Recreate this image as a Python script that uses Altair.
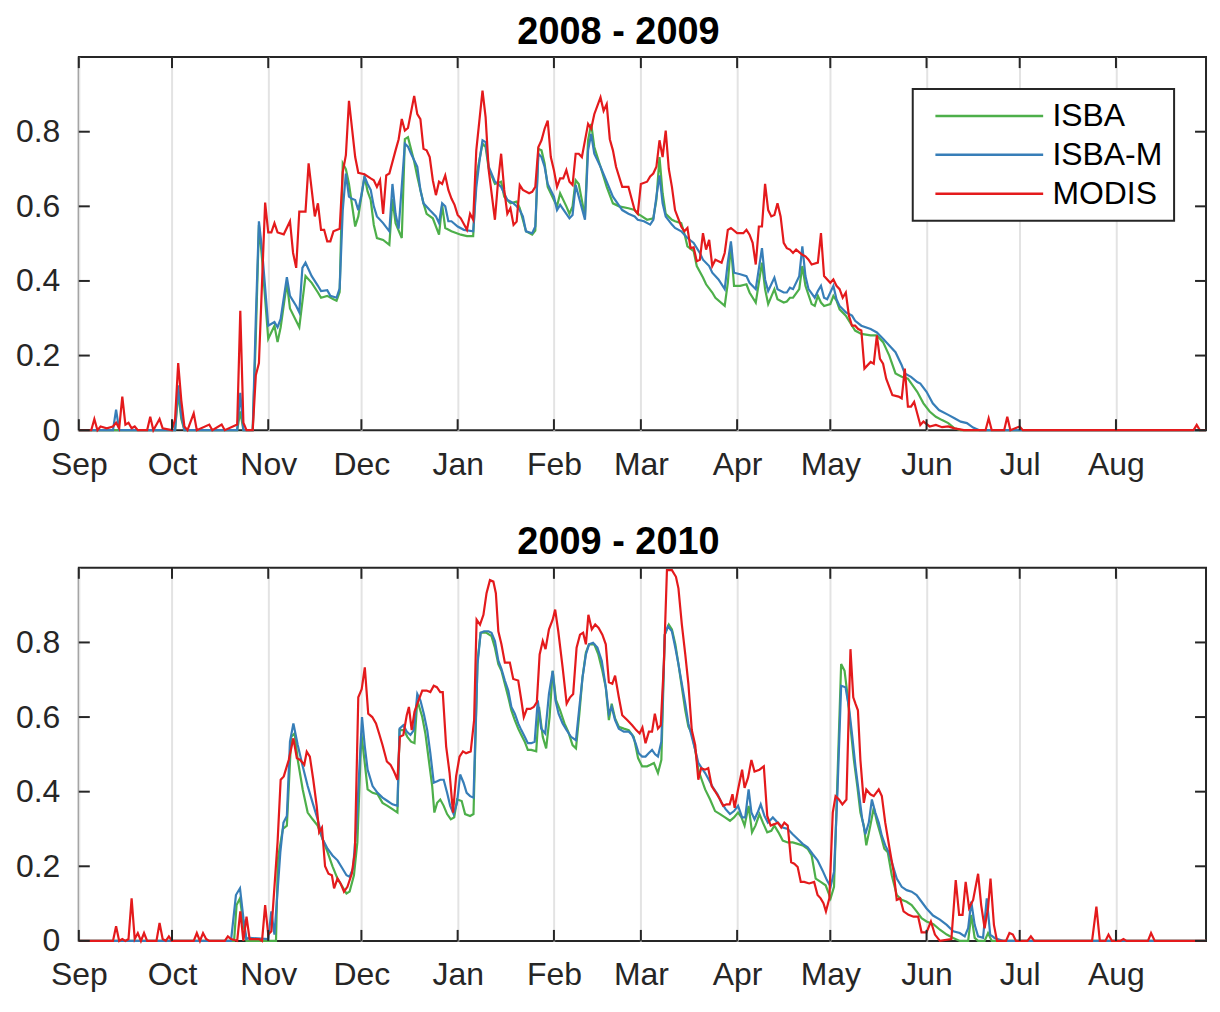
import altair as alt
import pandas as pd

# ---------------- axis / label values ----------------
month_days = [0, 30, 61, 91, 122, 153, 181, 212, 242, 273, 303, 334]
month_labels = ["Sep", "Oct", "Nov", "Dec", "Jan", "Feb", "Mar", "Apr", "May", "Jun", "Jul", "Aug"]
y_ticks = [0, 0.2, 0.4, 0.6, 0.8]
series_names = ["ISBA", "ISBA-M", "MODIS"]
series_colors = ["#4daf4a", "#377eb8", "#e41a1c"]
panel_titles = ["2008 - 2009", "2009 - 2010"]

# ---------------- 2008 - 2009 (day of season, value) ----------------
isba_0809 = [(0,0),(31,0),(32,0.1),(33,0.03),(34,0),(51,0),(52,0.05),(53,0),(56,0),(57,0.25),(58,0.55),(59,0.46),(61,0.245),(63,0.28),(64,0.236),(65,0.276),(67,0.395),(68,0.326),(71,0.276),(73,0.413),(75,0.395),(77,0.369),(78,0.355),(80,0.36),(82,0.351),(83,0.347),(84,0.37),(85,0.715),(86,0.7),(87,0.66),(89,0.546),(90,0.573),(92,0.68),(93,0.64),(94,0.617),(95,0.55),(96,0.515),(98,0.51),(100,0.497),(101,0.62),(102,0.555),(104,0.515),(105,0.78),(106,0.785),(108,0.72),(109,0.68),(111,0.608),(112,0.58),(114,0.568),(116,0.524),(117,0.604),(118,0.542),(120,0.533),(123,0.524),(125,0.52),(127,0.52),(128,0.68),(130,0.768),(131,0.759),(132,0.701),(134,0.66),(136,0.666),(137,0.626),(139,0.608),(141,0.613),(142,0.595),(143,0.564),(144,0.533),(146,0.524),(147,0.535),(148,0.754),(149,0.75),(150,0.715),(151,0.652),(153,0.617),(154,0.6),(155,0.635),(157,0.6),(158,0.58),(159,0.6),(160,0.67),(161,0.66),(163,0.573),(164,0.777),(165,0.821),(166,0.759),(168,0.706),(170,0.652),(172,0.608),(174,0.6),(177,0.595),(179,0.59),(180,0.58),(181,0.575),(183,0.564),(185,0.568),(186,0.617),(187,0.732),(188,0.635),(189,0.58),(191,0.564),(192,0.56),(194,0.555),(195,0.528),(196,0.493),(198,0.48),(199,0.44),(201,0.409),(202,0.391),(204,0.369),(205,0.355),(208,0.333),(209,0.395),(210,0.497),(211,0.387),(213,0.387),(215,0.391),(216,0.369),(218,0.342),(220,0.449),(221,0.378),(222,0.338),(224,0.378),(225,0.351),(227,0.342),(228,0.345),(229,0.355),(230,0.355),(232,0.378),(233,0.44),(234,0.387),(236,0.338),(237,0.333),(238,0.36),(239,0.342),(240,0.333),(242,0.338),(243,0.36),(244,0.347),(245,0.324),(247,0.307),(249,0.28),(250,0.267),(252,0.258),(255,0.254),(257,0.254),(259,0.236),(261,0.2),(263,0.152),(265,0.143),(267,0.138),(270,0.103),(272,0.072),(274,0.05),(276,0.036),(278,0.027),(280,0.019),(282,0.005),(284,0),(363,0)]

isbam_0809 = [(0,0),(11,0),(12,0.055),(13,0),(31,0),(32,0.12),(33,0.04),(34,0),(51,0),(52,0.1),(53,0),(56,0),(57,0.3),(58,0.56),(59,0.484),(61,0.28),(63,0.29),(64,0.276),(65,0.298),(67,0.41),(68,0.36),(70,0.333),(71,0.316),(72,0.435),(73,0.449),(75,0.413),(77,0.387),(78,0.373),(80,0.375),(81,0.36),(83,0.355),(84,0.38),(85,0.59),(86,0.688),(87,0.626),(88,0.62),(89,0.617),(90,0.59),(91,0.63),(92,0.68),(93,0.66),(94,0.644),(95,0.6),(96,0.573),(98,0.555),(100,0.533),(101,0.66),(102,0.58),(103,0.54),(105,0.768),(106,0.76),(107,0.741),(109,0.706),(110,0.644),(111,0.608),(113,0.59),(115,0.573),(116,0.555),(117,0.608),(118,0.6),(119,0.56),(120,0.56),(122,0.546),(124,0.537),(127,0.533),(128,0.65),(129,0.72),(130,0.777),(131,0.772),(132,0.706),(134,0.666),(135,0.66),(136,0.652),(138,0.617),(139,0.613),(140,0.608),(141,0.6),(142,0.59),(143,0.573),(144,0.533),(146,0.528),(147,0.546),(148,0.741),(149,0.732),(150,0.706),(151,0.66),(153,0.626),(154,0.59),(155,0.604),(157,0.58),(158,0.568),(159,0.577),(160,0.657),(161,0.626),(163,0.564),(164,0.75),(165,0.794),(166,0.741),(168,0.706),(170,0.666),(172,0.626),(175,0.59),(177,0.58),(179,0.573),(180,0.564),(182,0.56),(184,0.551),(185,0.564),(186,0.626),(187,0.683),(188,0.608),(189,0.573),(191,0.551),(192,0.542),(194,0.533),(196,0.515),(198,0.502),(200,0.475),(201,0.457),(203,0.44),(204,0.422),(206,0.404),(208,0.378),(209,0.45),(210,0.506),(211,0.422),(213,0.418),(215,0.413),(216,0.395),(218,0.378),(220,0.488),(221,0.404),(222,0.373),(224,0.409),(225,0.378),(227,0.369),(228,0.369),(229,0.382),(230,0.378),(232,0.413),(233,0.493),(234,0.413),(235,0.378),(237,0.355),(238,0.373),(239,0.387),(240,0.355),(241,0.351),(243,0.387),(244,0.351),(245,0.333),(247,0.316),(249,0.307),(250,0.293),(252,0.28),(255,0.271),(257,0.262),(259,0.245),(261,0.227),(263,0.209),(265,0.174),(266,0.152),(268,0.143),(270,0.129),(271,0.125),(273,0.103),(275,0.072),(277,0.054),(280,0.041),(282,0.032),(284,0.023),(286,0.019),(288,0.007),(290,0),(363,0)]

modis_0809 = [(0,0),(4,0),(5,0.03),(6,0),(7,0.01),(9,0.005),(11,0.01),(12,0.02),(13,0.005),(14,0.09),(15,0.015),(16,0.02),(17,0.005),(18,0.01),(19,0),(22,0),(23,0.036),(24,0),(26,0.03),(27,0.005),(30,0),(31,0.03),(32,0.18),(33,0.08),(34,0.01),(35,0),(37,0.045),(38,0),(42,0.015),(43,0),(46,0.015),(47,0),(51,0.015),(52,0.32),(53,0.02),(54,0),(56,0),(57,0.147),(58,0.18),(60,0.61),(61,0.53),(62,0.53),(63,0.555),(64,0.53),(66,0.525),(68,0.56),(69,0.475),(70,0.435),(71,0.586),(73,0.586),(74,0.715),(76,0.573),(77,0.608),(78,0.537),(79,0.537),(80,0.506),(81,0.506),(82,0.533),(84,0.54),(85,0.692),(86,0.737),(87,0.883),(89,0.732),(90,0.69),(92,0.686),(94,0.675),(95,0.67),(96,0.652),(97,0.67),(98,0.58),(99,0.683),(100,0.688),(102,0.75),(103,0.78),(104,0.834),(105,0.803),(106,0.81),(108,0.896),(109,0.847),(110,0.834),(111,0.754),(112,0.75),(113,0.732),(114,0.67),(115,0.63),(116,0.666),(117,0.66),(118,0.683),(119,0.644),(120,0.621),(121,0.604),(122,0.577),(123,0.568),(125,0.537),(126,0.58),(127,0.564),(128,0.75),(130,0.91),(131,0.839),(132,0.697),(134,0.564),(135,0.666),(136,0.741),(137,0.644),(138,0.58),(139,0.595),(140,0.55),(141,0.559),(142,0.657),(143,0.644),(145,0.635),(146,0.639),(147,0.652),(148,0.759),(149,0.777),(150,0.808),(151,0.83),(152,0.732),(153,0.697),(154,0.652),(155,0.675),(156,0.675),(157,0.697),(158,0.666),(159,0.657),(160,0.741),(161,0.741),(162,0.732),(164,0.821),(165,0.808),(166,0.847),(168,0.892),(169,0.856),(170,0.874),(171,0.78),(172,0.75),(173,0.706),(175,0.652),(177,0.652),(178,0.621),(179,0.59),(180,0.58),(181,0.66),(183,0.666),(184,0.68),(185,0.688),(186,0.706),(187,0.777),(188,0.732),(189,0.803),(190,0.7),(191,0.652),(192,0.59),(194,0.546),(195,0.533),(196,0.542),(197,0.488),(198,0.49),(199,0.453),(200,0.457),(201,0.528),(202,0.484),(203,0.51),(204,0.44),(205,0.457),(207,0.449),(208,0.475),(209,0.537),(210,0.542),(212,0.528),(214,0.528),(215,0.537),(216,0.524),(217,0.502),(218,0.444),(219,0.546),(220,0.546),(221,0.66),(222,0.59),(223,0.573),(224,0.577),(225,0.608),(226,0.573),(227,0.502),(228,0.488),(229,0.484),(230,0.475),(231,0.484),(233,0.47),(234,0.466),(235,0.457),(236,0.444),(238,0.449),(239,0.528),(240,0.413),(242,0.395),(243,0.404),(244,0.387),(245,0.378),(246,0.355),(247,0.369),(248,0.307),(249,0.28),(250,0.28),(251,0.271),(252,0.267),(253,0.165),(255,0.183),(256,0.178),(257,0.254),(258,0.191),(259,0.178),(260,0.138),(262,0.094),(264,0.09),(265,0.085),(266,0.165),(267,0.063),(268,0.063),(269,0.076),(271,0.014),(272,0.023),(274,0.01),(276,0.014),(278,0.008),(280,0.01),(282,0.005),(285,0),(292,0),(293,0.032),(294,0),(298,0),(299,0.036),(300,0),(303,0.01),(304,0),(359,0),(360,0.014),(361,0),(363,0)]

# ---------------- 2009 - 2010 (day of season, value) ----------------
isba_0910 = [(0,0),(50,0),(50.8,0.096),(51.9,0.114),(53,0.044),(54,0),(63.5,0),(64.1,0.22),(65.7,0.3),(67,0.309),(68.4,0.547),(69.5,0.556),(70.5,0.485),(72.1,0.406),(73.7,0.344),(75.3,0.326),(76.9,0.309),(78.5,0.273),(80.1,0.238),(81.7,0.2),(83.3,0.167),(84.9,0.145),(86.2,0.127),(87.2,0.132),(88.6,0.176),(89.7,0.264),(91,0.556),(92.2,0.468),(93,0.406),(94.6,0.397),(96.2,0.393),(97.8,0.37),(99.4,0.362),(101,0.353),(102.6,0.344),(103.3,0.565),(104.7,0.565),(105.8,0.547),(107,0.534),(108.1,0.53),(109,0.645),(110.6,0.6),(111.6,0.556),(112.7,0.485),(113.8,0.415),(114.5,0.344),(115.4,0.37),(116.4,0.379),(117.5,0.362),(118.6,0.34),(119.8,0.326),(120.9,0.331),(121.8,0.379),(123.3,0.375),(124.4,0.34),(126,0.335),(127.1,0.34),(128.4,0.751),(129.4,0.826),(131.3,0.826),(132.9,0.817),(134,0.786),(135.1,0.742),(136.1,0.724),(137.2,0.689),(138.3,0.653),(139.3,0.618),(140.4,0.592),(141.5,0.569),(142.5,0.552),(143.6,0.534),(144.6,0.512),(145.7,0.512),(147.3,0.508),(148.2,0.627),(149.4,0.547),(150.5,0.516),(151.6,0.6),(152.6,0.724),(153.7,0.645),(155,0.618),(156.4,0.583),(157.6,0.561),(159,0.525),(160.1,0.516),(161.2,0.609),(162.2,0.706),(163.3,0.773),(164.3,0.795),(166,0.795),(167.3,0.768),(168.6,0.724),(169.7,0.68),(170.7,0.592),(171.6,0.636),(172.7,0.596),(173.9,0.574),(175.5,0.569),(177.1,0.565),(178.7,0.547),(180.1,0.49),(181.4,0.468),(183,0.468),(184.1,0.472),(185.2,0.477),(186.5,0.45),(187.6,0.485),(188.7,0.821),(190,0.848),(191,0.835),(192.1,0.795),(193.1,0.742),(194.2,0.68),(195.3,0.618),(196.3,0.574),(197.4,0.556),(198.5,0.512),(199.5,0.459),(200.6,0.432),(201.7,0.406),(203.3,0.379),(204.9,0.348),(206.5,0.34),(208.1,0.331),(209.7,0.322),(211,0.331),(212.3,0.344),(213.4,0.331),(214.4,0.309),(215.7,0.362),(216.8,0.291),(217.9,0.309),(219.2,0.34),(220.3,0.317),(221.7,0.291),(223,0.295),(224,0.309),(225.3,0.291),(226.7,0.269),(228.3,0.264),(229.9,0.264),(231.5,0.26),(233.1,0.256),(234.7,0.247),(236,0.229),(237.3,0.167),(238.9,0.158),(240.5,0.149),(242.1,0.114),(243.2,0.145),(244.5,0.485),(245.5,0.742),(246.6,0.724),(247.5,0.662),(248.5,0.574),(249.6,0.485),(250.7,0.415),(251.7,0.344),(252.8,0.309),(253.6,0.256),(254.9,0.309),(256,0.357),(257.1,0.317),(258.3,0.282),(259.4,0.247),(260.5,0.238),(261.8,0.176),(263.4,0.123),(265,0.11),(266.6,0.105),(268.2,0.096),(269.8,0.079),(271.4,0.061),(273,0.052),(275.2,0.045),(277.3,0.03),(279.5,0.017),(281.6,0.008),(283.7,0),(286.4,0),(287.4,0.07),(288.5,0.008),(289.6,0),(291.7,0),(292.8,0.021),(294,0),(363,0)]

isbam_0910 = [(0,0),(49,0),(50.6,0.123),(51.9,0.141),(53,0.061),(54,0.005),(55,0.008),(61,0.005),(62,0.079),(63,0.017),(64.9,0.238),(65.9,0.317),(67,0.335),(68,0.534),(69.1,0.583),(70.5,0.525),(72.1,0.468),(73.7,0.415),(75.3,0.37),(76.9,0.326),(78.5,0.273),(80.1,0.247),(81.7,0.229),(83.3,0.216),(84.9,0.194),(86.2,0.176),(87.2,0.172),(88.3,0.194),(89.4,0.309),(91.2,0.6),(92.1,0.521),(93,0.459),(94.6,0.415),(96.2,0.397),(97.8,0.384),(99.4,0.375),(101,0.366),(102.6,0.362),(103.3,0.569),(104.5,0.578),(105.6,0.561),(106.8,0.552),(107.9,0.565),(109,0.662),(110,0.645),(111.1,0.609),(112.2,0.565),(113.2,0.503),(114.3,0.424),(115.4,0.428),(116.4,0.432),(117.5,0.432),(118.6,0.397),(119.6,0.362),(120.7,0.34),(121.8,0.37),(122.8,0.446),(123.9,0.424),(124.9,0.397),(126,0.388),(127.1,0.384),(128.4,0.742),(129.4,0.826),(130.5,0.83),(131.9,0.83),(132.9,0.826),(134,0.804),(135.1,0.751),(136.1,0.729),(137.2,0.698),(138.3,0.671),(139.3,0.627),(140.4,0.609),(141.5,0.583),(142.5,0.565),(143.6,0.547),(144.6,0.53),(145.7,0.53),(146.8,0.534),(147.8,0.645),(148.9,0.569),(150.2,0.556),(151.4,0.662),(152.6,0.724),(153.5,0.645),(154.5,0.609),(155.8,0.583),(157.1,0.565),(158.5,0.547),(160.1,0.538),(161.2,0.627),(162.2,0.706),(163.3,0.768),(164.3,0.795),(165.6,0.799),(167,0.786),(168.4,0.751),(169.7,0.68),(170.7,0.609),(171.6,0.627),(172.7,0.592),(173.9,0.569),(175.5,0.561),(177.1,0.561),(178.2,0.552),(179.3,0.53),(180.3,0.503),(181.4,0.494),(182.5,0.494),(183.5,0.503),(184.6,0.512),(185.6,0.5),(186.5,0.494),(187.6,0.534),(188.7,0.821),(189.7,0.843),(191,0.83),(192.1,0.786),(193.1,0.742),(194.2,0.689),(195.3,0.636),(196.3,0.583),(197.4,0.547),(198.5,0.512),(199.5,0.477),(200.6,0.463),(201.7,0.45),(202.9,0.432),(204.3,0.41),(205.7,0.393),(207,0.37),(208.3,0.353),(209.7,0.34),(211,0.348),(212.3,0.362),(213.6,0.331),(214.6,0.331),(215.7,0.406),(216.6,0.344),(217.6,0.326),(218.6,0.344),(219.6,0.366),(220.8,0.335),(221.9,0.317),(223.5,0.331),(225.1,0.317),(226.7,0.304),(228.3,0.3),(229.9,0.286),(231.5,0.273),(233.1,0.26),(234.7,0.251),(236.3,0.233),(237.9,0.216),(239.5,0.189),(240.9,0.163),(242.1,0.145),(243.2,0.185),(244.3,0.397),(245.5,0.684),(246.9,0.68),(248,0.627),(249.1,0.547),(250.1,0.468),(251.2,0.397),(252.3,0.326),(253.3,0.286),(254.4,0.317),(255.4,0.379),(256.5,0.344),(257.6,0.317),(258.6,0.282),(259.7,0.256),(260.8,0.238),(261.8,0.211),(263.4,0.167),(265,0.145),(266.6,0.136),(268.2,0.132),(269.8,0.123),(271.4,0.105),(273,0.087),(275.1,0.068),(277.3,0.057),(279.5,0.043),(281.6,0.026),(283.7,0.021),(285.3,0.012),(286.4,0.034),(287.4,0.105),(288.5,0.043),(289.6,0.012),(291.2,0.008),(292.4,0.114),(293.5,0.017),(294.9,0.008),(297.6,0),(363,0)]

modis_0910 = [(0,0),(11,0),(12,0.039),(13,0),(14,0.005),(15,0),(16,0.005),(17,0.114),(18,0.005),(19,0.021),(20,0),(21,0.021),(22,0),(25,0),(26,0.048),(27,0.005),(28,0),(29,0.012),(30,0),(37,0),(38,0.021),(39,0),(40,0.021),(41,0.005),(42,0),(47,0),(48,0.012),(49,0.005),(51,0),(52,0.079),(53,0),(54,0.065),(55,0.005),(58,0.005),(59,0),(60,0.096),(61,0.017),(62,0.026),(64,0.264),(65,0.432),(66,0.441),(67.6,0.485),(69.1,0.543),(70.2,0.49),(71.3,0.485),(72.6,0.472),(73.4,0.507),(74.4,0.494),(75.5,0.432),(76.6,0.362),(77.4,0.291),(78.3,0.304),(79.3,0.2),(80.4,0.18),(81.5,0.176),(82.2,0.141),(83.3,0.167),(84.3,0.154),(85.4,0.132),(86.5,0.145),(87.9,0.18),(88.9,0.238),(90,0.653),(91.1,0.675),(92.1,0.733),(93.2,0.609),(94.5,0.6),(95.7,0.583),(96.7,0.556),(97.8,0.525),(99.2,0.481),(100.4,0.472),(101.5,0.454),(102.6,0.432),(103.4,0.547),(104.5,0.552),(105.6,0.605),(106.3,0.627),(107.2,0.565),(108.1,0.614),(109.2,0.64),(110.6,0.671),(112,0.671),(113.2,0.667),(114.3,0.684),(115.3,0.68),(116.4,0.667),(117.2,0.667),(118.3,0.521),(119.4,0.45),(120.5,0.344),(121.5,0.441),(122.6,0.494),(123.7,0.508),(124.7,0.503),(126.2,0.508),(127.3,0.592),(128.1,0.861),(129.2,0.848),(130.3,0.874),(131.3,0.932),(132.4,0.967),(133.5,0.963),(134.3,0.932),(135.1,0.83),(136.1,0.795),(137.2,0.746),(138.8,0.746),(139.9,0.702),(141.5,0.698),(142.5,0.645),(143.3,0.6),(144.3,0.622),(145.4,0.622),(146.5,0.627),(147.5,0.64),(148.4,0.768),(149.4,0.804),(150.3,0.782),(151.4,0.835),(152.6,0.861),(153.4,0.888),(154.4,0.83),(155.8,0.733),(157.1,0.636),(158.2,0.653),(159.2,0.662),(160.3,0.786),(161.4,0.821),(162.4,0.826),(163.3,0.795),(164.1,0.874),(165.2,0.835),(166.3,0.848),(167.4,0.839),(168.6,0.821),(169.7,0.795),(170.7,0.693),(171.8,0.689),(172.7,0.711),(173.9,0.653),(175,0.605),(176.6,0.592),(178.2,0.578),(179.5,0.565),(180.6,0.556),(181.5,0.572),(182.5,0.53),(183.6,0.561),(184.6,0.561),(185.5,0.609),(186.5,0.569),(187.4,0.578),(188.4,0.742),(189.4,0.994),(191,0.994),(192.3,0.976),(193.1,0.945),(194.2,0.848),(195.3,0.768),(196.3,0.689),(197.4,0.565),(198.5,0.525),(199.5,0.432),(200.4,0.463),(201.7,0.459),(202.7,0.463),(203.8,0.415),(204.9,0.401),(206.5,0.379),(207.5,0.362),(208.6,0.366),(209.6,0.366),(210.5,0.393),(211.2,0.357),(212.3,0.406),(213.6,0.459),(214.4,0.41),(215.5,0.437),(216.6,0.485),(217.6,0.454),(219.2,0.459),(220.6,0.468),(221.7,0.335),(222.8,0.309),(224,0.313),(225.1,0.317),(226.2,0.304),(227.2,0.317),(228.3,0.309),(229.4,0.211),(230.4,0.207),(231.5,0.198),(232.5,0.158),(233.6,0.158),(235.2,0.154),(236.8,0.158),(237.9,0.123),(238.9,0.114),(239.8,0.101),(240.6,0.079),(241.7,0.114),(242.8,0.344),(243.7,0.388),(244.8,0.379),(245.9,0.366),(247.2,0.379),(248.5,0.782),(249.4,0.653),(250.1,0.636),(250.9,0.618),(251.7,0.485),(252.8,0.37),(253.6,0.406),(254.9,0.393),(256,0.388),(257.6,0.406),(258.6,0.388),(259.7,0.317),(261.1,0.247),(262.4,0.185),(263.4,0.11),(264.5,0.114),(265.6,0.079),(267.2,0.07),(268.8,0.065),(270.3,0.065),(271.4,0.023),(273,0.023),(274.4,0.052),(275.7,0.017),(277.3,0),(281,0.005),(282.4,0.163),(283.5,0.07),(284.6,0.07),(285.6,0.158),(286.7,0.088),(288,0.11),(289.6,0.18),(290.6,0.096),(291.7,0.034),(292.8,0.088),(293.6,0.167),(294.7,0.043),(295.7,0),(298.6,0),(299.7,0.021),(300.8,0.017),(301.8,0),(305.5,0),(306.6,0.012),(307.7,0),(326.3,0),(327.7,0.092),(328.8,0),(330.6,0),(331.6,0.017),(332.7,0),(335.4,0),(336.4,0.005),(337.4,0),(344.3,0),(345.3,0.021),(346.5,0),(363,0)]

# ---------------- build tables ----------------
def to_frame(named):
    rows = []
    for name, pairs in named:
        for d, v in pairs:
            rows.append({"series": name, "day": d, "value": v})
    return pd.DataFrame(rows)

df_0809 = to_frame([("ISBA", isba_0809), ("ISBA-M", isbam_0809), ("MODIS", modis_0809)])
df_0910 = to_frame([("ISBA", isba_0910), ("ISBA-M", isbam_0910), ("MODIS", modis_0910)])
xtick_df = pd.DataFrame({"day": month_days})
ytick_df = pd.DataFrame({"value": y_ticks})

# ---------------- styling ----------------
W, H = 1130, 374
TICK = 11
FONT = "Liberation Sans"
DARK = "#262626"

x_scale = alt.Scale(domain=[0, 363], nice=False, zero=False)
y_scale = alt.Scale(domain=[0, 1], nice=False, zero=False)

x_label_expr = ("[" + ",".join("'%s'" % m for m in month_labels) + "][indexof(["
                + ",".join(str(d) for d in month_days) + "], datum.value)]")

x_axis = alt.Axis(values=month_days, labelExpr=x_label_expr, grid=True, gridColor="#e3e3e3",
                  gridWidth=2, ticks=False, domain=False, labelFontSize=32, labelFont=FONT,
                  labelColor=DARK, labelPadding=19, labelFlush=False, labelOverlap=False, title=None)
y_axis = alt.Axis(values=y_ticks, labelExpr="datum.value == 0 ? '0' : format(datum.value, '.1f')",
                  grid=False, ticks=False, domain=False, labelFontSize=32, labelFont=FONT,
                  labelColor=DARK, labelPadding=19, labelFlush=False, labelOverlap=False, title=None)

legend = alt.Legend(orient="top-right", offset=32, title=None, symbolType="M-0.33,0H7.98",
                    symbolSize=676, symbolStrokeWidth=2.5, labelFontSize=32, labelFont=FONT,
                    labelColor="black", padding=11, rowPadding=7, strokeColor=DARK,
                    fillColor="white", labelOffset=97, labelLimit=400)


def panel(df, title, show_legend):
    color_kwargs = dict(scale=alt.Scale(domain=series_names, range=series_colors))
    if show_legend:
        color_kwargs["legend"] = legend
    else:
        color_kwargs["legend"] = None
    lines = alt.Chart(df).mark_line(strokeWidth=2.2).encode(
        x=alt.X("day:Q", scale=x_scale, axis=x_axis),
        y=alt.Y("value:Q", scale=y_scale, axis=y_axis),
        color=alt.Color("series:N", **color_kwargs),
    )
    rs = dict(color=DARK, strokeWidth=2)
    t_bottom = alt.Chart(xtick_df).mark_rule(**rs).encode(
        x=alt.X("day:Q", scale=x_scale, axis=x_axis), y=alt.value(H), y2=alt.value(H - TICK))
    t_top = alt.Chart(xtick_df).mark_rule(**rs).encode(
        x=alt.X("day:Q", scale=x_scale, axis=x_axis), y=alt.value(0), y2=alt.value(TICK))
    t_left = alt.Chart(ytick_df).mark_rule(**rs).encode(
        y=alt.Y("value:Q", scale=y_scale, axis=y_axis), x=alt.value(0), x2=alt.value(TICK))
    t_right = alt.Chart(ytick_df).mark_rule(**rs).encode(
        y=alt.Y("value:Q", scale=y_scale, axis=y_axis), x=alt.value(W - TICK), x2=alt.value(W))
    return alt.layer(lines, t_bottom, t_top, t_left, t_right).properties(
        width=W, height=H,
        title=alt.TitleParams(text=title, fontSize=38, fontWeight="bold", font=FONT, color="black",
                              anchor="middle", frame="group", dx=-24, offset=4),
    )


top = panel(df_0809, panel_titles[0], True)
bottom = panel(df_0910, panel_titles[1], False)

chart = alt.vconcat(top, bottom, spacing=41).resolve_scale(color="independent").resolve_legend(
    color="independent").properties(
    padding={"left": 6, "top": 4, "right": 0, "bottom": 0},
    background="white",
).configure_view(stroke=DARK, strokeWidth=2).configure_legend(strokeWidth=2)

chart.save("out.html", embed_options={"renderer": "svg", "actions": False})
